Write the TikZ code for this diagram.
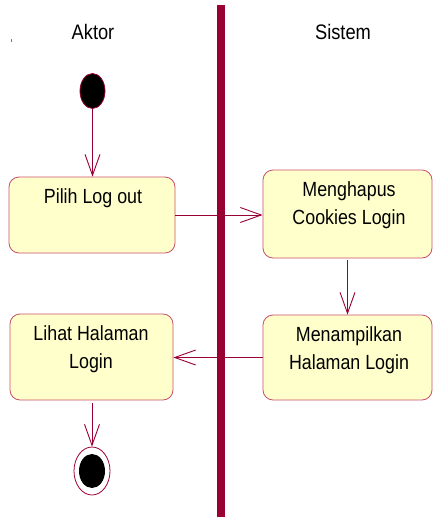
\documentclass[tikz,border=0pt]{standalone}
\usepackage{fontspec}
\setmainfont[FakeStretch=0.87]{Liberation Sans}
\usetikzlibrary{arrows.meta,shapes.geometric}

\definecolor{lane}{HTML}{990033}
\definecolor{flow}{HTML}{990033}
\definecolor{boxline}{HTML}{C8506E}
\definecolor{boxfill}{HTML}{FFFFCC}

\tikzset{
  actbox/.style={draw=boxline, fill=boxfill, line width=0.8pt, rounded corners=10pt,
                 inner sep=0pt},
  acttext/.style={anchor=north, inner sep=0pt, align=center,
                  font=\fontsize{20.5}{28}\selectfont},
  title/.style={anchor=base, inner sep=0pt, font=\fontsize{21}{25}\selectfont},
  flowline/.style={draw=flow, line width=0.9pt,
                   -{Straight Barb[length=21pt,width=15pt,line width=0.9pt]}},
}

\begin{document}
\begin{tikzpicture}[x=1pt,y=-1pt]
\useasboundingbox (0,0) rectangle (434,517);

% swimlane divider
\fill[lane] (217,5) rectangle (225,517);
\fill[boxline] (10.5,38.5) rectangle (12,41.5);

% lane titles
\node[title] (aktor) at (93,39) {Aktor};
\node[title] (sistem) at (343,39) {Sistem};

% initial state
\node[ellipse, draw=flow, fill=black, line width=0.8pt, inner sep=0pt,
      minimum width=25pt, minimum height=35pt] (start) at (92.5,91) {};

% activities
\node[actbox, minimum width=166pt, minimum height=76pt] (pilih) at (92,215) {};
\node[acttext] (pilihT) at (93,188) {Pilih Log out};

\node[actbox, minimum width=169pt, minimum height=88pt] (hapus) at (347.5,214) {};
\node[acttext] (hapusT) at (349,181) {Menghapus\\Cookies Login};

\node[actbox, minimum width=169pt, minimum height=85pt] (tampil) at (347.5,357.5) {};
\node[acttext] (tampilT) at (349,326) {Menampilkan\\Halaman Login};

\node[actbox, minimum width=163pt, minimum height=86pt] (lihat) at (91.5,357) {};
\node[acttext] (lihatT) at (91,325) {Lihat Halaman\\Login};

% final state
\node[ellipse, draw=flow, fill=white, line width=0.8pt, inner sep=0pt,
      minimum width=36pt, minimum height=48pt] (finish) at (92,471) {};
\node[ellipse, fill=black, inner sep=0pt,
      minimum width=26pt, minimum height=34pt] (finishDot) at (92,471) {};

% transitions
\draw[flowline] (start) -- (start |- pilih.north);
\draw[flowline] (pilih.east) -- (pilih.east -| hapus.west);
\draw[flowline, shorten <=2pt] (hapus.south) -- (tampil.north);
\draw[flowline] (tampil.west) -- (tampil.west -| lihat.east);
\draw[flowline, shorten <=3pt] (finish.north |- lihat.south) -- (finish.north);
\end{tikzpicture}
\end{document}
